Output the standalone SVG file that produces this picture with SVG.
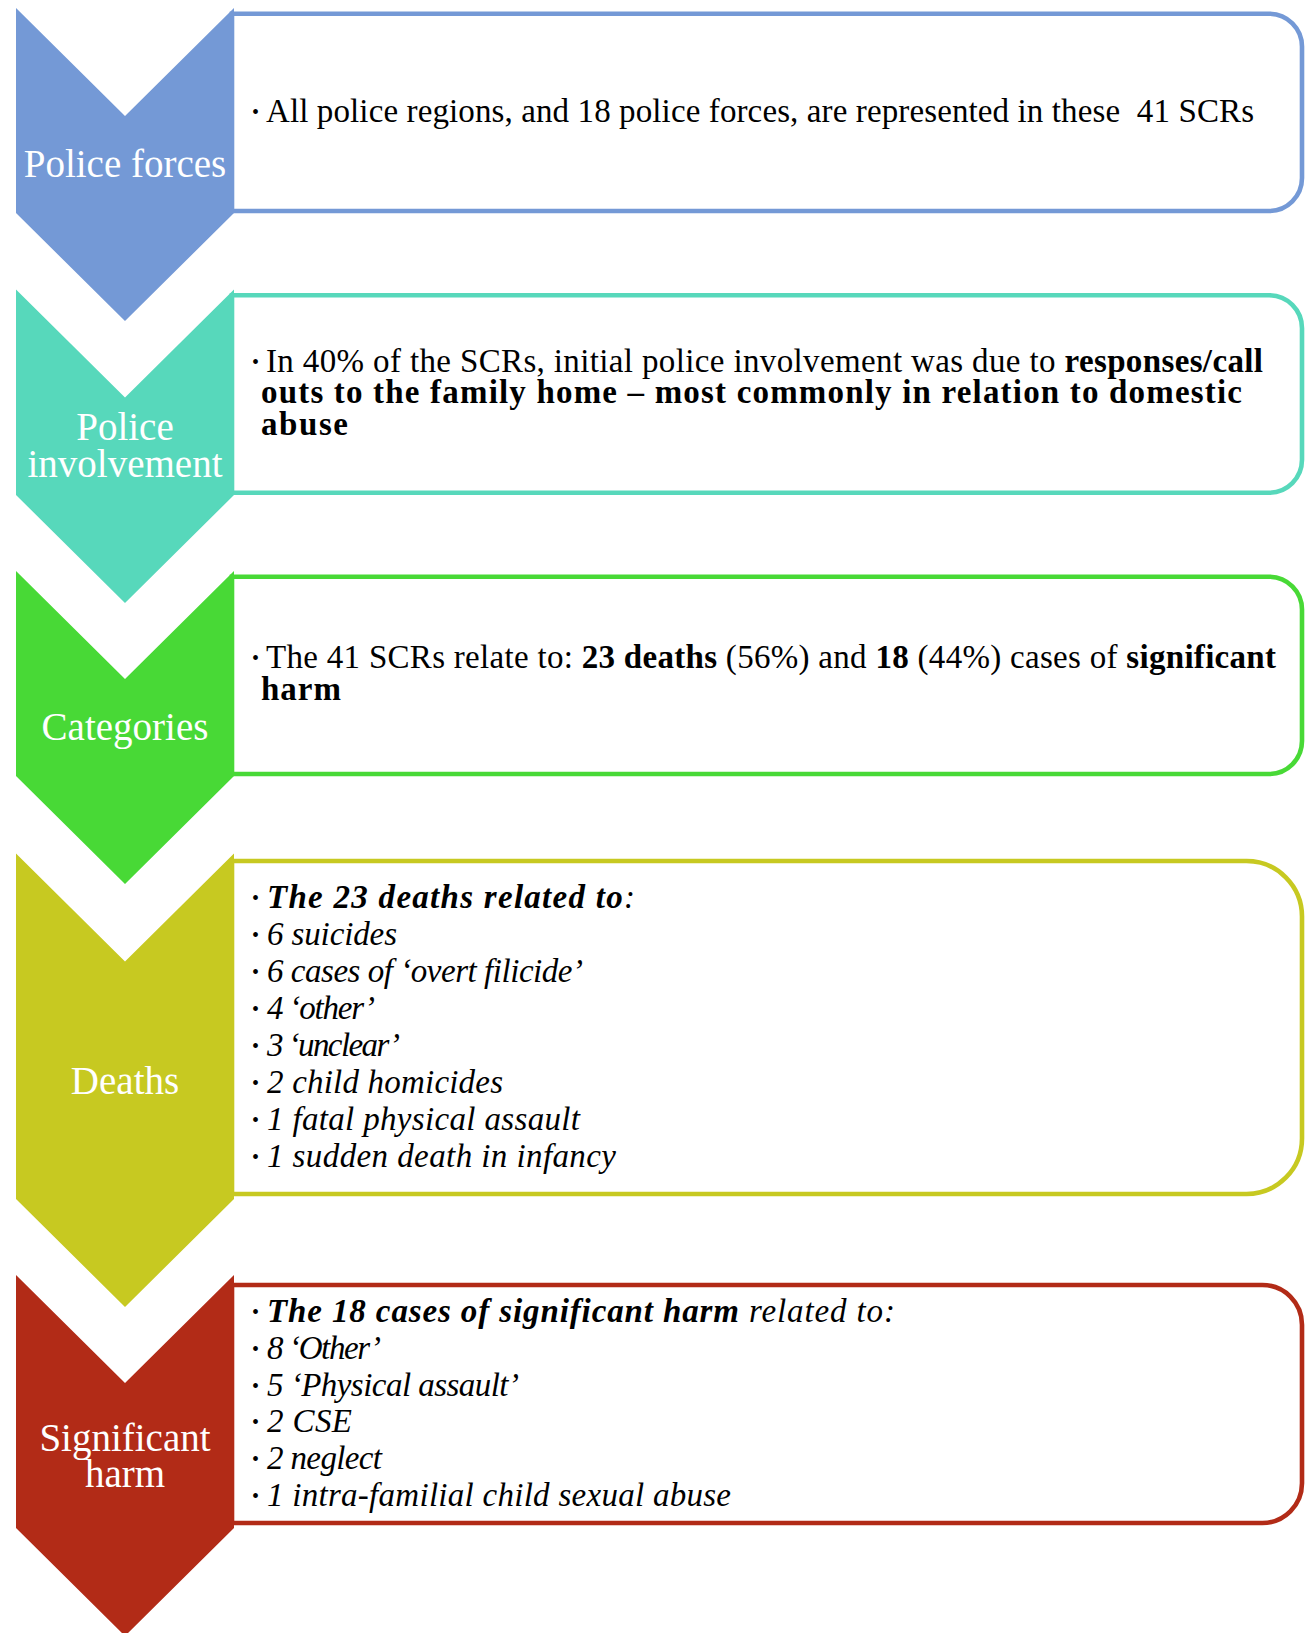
<svg xmlns="http://www.w3.org/2000/svg" width="1306" height="1633" viewBox="0 0 1306 1633">
<style>
.box{fill:#ffffff;stroke-width:4.6}
.lbl{font-family:"Liberation Serif",serif;font-size:39px;fill:#ffffff;text-anchor:middle}
.t{font-family:"Liberation Serif",serif;font-size:33px;fill:#000000}
.bul{font-family:"Liberation Serif",serif;font-size:20px;fill:#000000}
.b{font-weight:bold}
.i{font-style:italic}
</style>
<rect width="1306" height="1633" fill="#ffffff"/>

<g id="node-police-forces">
<path class="box" stroke="#7499D6" d="M232,13.7 H1269.1 A32.9,32.9 0 0 1 1302,46.6 V178.1 A32.9,32.9 0 0 1 1269.1,211 H232 Z"/>
<polygon fill="#7499D6" points="16,8 125,116 234,8 234,213 125,321 16,213"/>
<text class="lbl" x="125" y="176.7">Police forces</text>
<text class="bul" x="252" y="118.7">•</text>
<text class="t" x="266" y="121.7" xml:space="preserve" textLength="988">All police regions, and 18 police forces, are represented in these  41 SCRs</text>
</g>

<g id="node-police-involvement">
<path class="box" stroke="#57D8BB" d="M232,295.3 H1269.1 A32.9,32.9 0 0 1 1302,328.2 V459.8 A32.9,32.9 0 0 1 1269.1,492.7 H232 Z"/>
<polygon fill="#57D8BB" points="16,289.5 125,397.5 234,289.5 234,495 125,603 16,495"/>
<text class="lbl" x="125" y="440">Police</text>
<text class="lbl" x="125" y="477.3">involvement</text>
<text class="bul" x="252" y="368.7">•</text>
<text class="t" x="266" y="371.7" textLength="997">In 40% of the SCRs, initial police involvement was due to <tspan class="b">responses/call</tspan></text>
<text class="t b" x="261" y="403.3" textLength="981">outs to the family home – most commonly in relation to domestic</text>
<text class="t b" x="261" y="435" textLength="87">abuse</text>
</g>

<g id="node-categories">
<path class="box" stroke="#48D936" d="M232,576.7 H1269.1 A32.9,32.9 0 0 1 1302,609.6 V741.1 A32.9,32.9 0 0 1 1269.1,774 H232 Z"/>
<polygon fill="#48D936" points="16,571 125,679 234,571 234,776 125,884 16,776"/>
<text class="lbl" x="125" y="740">Categories</text>
<text class="bul" x="252" y="665.3">•</text>
<text class="t" x="266" y="668.3" textLength="1010">The 41 SCRs relate to: <tspan class="b">23 deaths</tspan> (56%) and <tspan class="b">18</tspan> (44%) cases of <tspan class="b">significant</tspan></text>
<text class="t b" x="261" y="700" textLength="80">harm</text>
</g>

<g id="node-deaths">
<path class="box" stroke="#C7C921" d="M232,861 H1246.5 A55.5,55.5 0 0 1 1302,916.5 V1138.5 A55.5,55.5 0 0 1 1246.5,1194 H232 Z"/>
<polygon fill="#C7C921" points="16,853.5 125,961.5 234,853.5 234,1199 125,1307 16,1199"/>
<text class="lbl" x="125" y="1094">Deaths</text>
<g class="bul">
<text x="252" y="905.3">•</text>
<text x="252" y="942.2">•</text>
<text x="252" y="979.1">•</text>
<text x="252" y="1016">•</text>
<text x="252" y="1052.9">•</text>
<text x="252" y="1089.8">•</text>
<text x="252" y="1126.7">•</text>
<text x="252" y="1163.6">•</text>
</g>
<g class="t i">
<text x="267" y="908.3" textLength="368"><tspan class="b">The 23 deaths related to</tspan>:</text>
<text x="267" y="945.2" textLength="130">6 suicides</text>
<text x="267" y="982.1" textLength="316">6 cases of ‘overt filicide’</text>
<text x="267" y="1019" textLength="108">4 ‘other’</text>
<text x="267" y="1055.9" textLength="133">3 ‘unclear’</text>
<text x="267" y="1092.8" textLength="236">2 child homicides</text>
<text x="267" y="1129.7" textLength="313">1 fatal physical assault</text>
<text x="267" y="1166.6" textLength="349">1 sudden death in infancy</text>
</g>
</g>

<g id="node-significant-harm">
<path class="box" stroke="#B22B17" d="M232,1285 H1262.3 A39.7,39.7 0 0 1 1302,1324.7 V1483.3 A39.7,39.7 0 0 1 1262.3,1523 H232 Z"/>
<polygon fill="#B22B17" points="16,1275 125,1383 234,1275 234,1528 125,1636 16,1528"/>
<text class="lbl" x="125" y="1451">Significant</text>
<text class="lbl" x="125" y="1487">harm</text>
<g class="bul">
<text x="252" y="1318.7">•</text>
<text x="252" y="1355.6">•</text>
<text x="252" y="1392.5">•</text>
<text x="252" y="1429.4">•</text>
<text x="252" y="1466.3">•</text>
<text x="252" y="1503.2">•</text>
</g>
<g class="t i">
<text x="267" y="1321.7" textLength="628"><tspan class="b">The 18 cases of significant harm</tspan> related to:</text>
<text x="267" y="1358.6" textLength="114">8 ‘Other’</text>
<text x="267" y="1395.5" textLength="252">5 ‘Physical assault’</text>
<text x="267" y="1432.4" textLength="85">2 CSE</text>
<text x="267" y="1469.3" textLength="115">2 neglect</text>
<text x="267" y="1506.2" textLength="464">1 intra-familial child sexual abuse</text>
</g>
</g>
</svg>
